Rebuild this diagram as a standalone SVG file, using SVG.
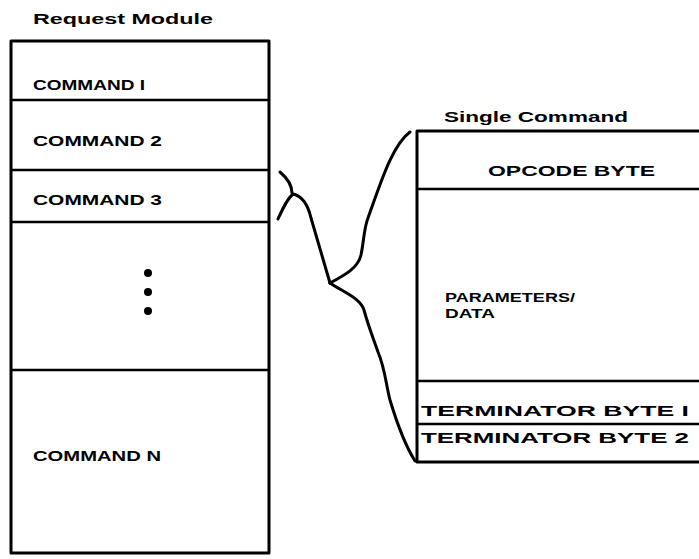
<svg xmlns="http://www.w3.org/2000/svg" width="699" height="559" viewBox="0 0 699 559">
<style>
.box{fill:none;stroke:#000;stroke-width:3;stroke-linejoin:round}
.div{stroke:#000;stroke-width:2.5}
.lbl{font-family:"Liberation Sans",Arial,sans-serif;font-weight:bold;font-size:15px;fill:#000}
.sm{font-size:13.5px}
.ttl{font-family:"Liberation Sans",Arial,sans-serif;font-weight:bold;font-size:14px;fill:#000}
.con{fill:none;stroke:#000;stroke-width:3;stroke-linecap:round;stroke-linejoin:round}
</style>
<rect width="699" height="559" fill="#fff"/>
<g id="request-module">
<text class="ttl" x="33" y="24" textLength="180" lengthAdjust="spacingAndGlyphs">Request Module</text>
<rect class="box" x="11" y="41" width="258" height="512"/>
<line class="div" x1="11" y1="100" x2="269" y2="100"/>
<line class="div" x1="11" y1="170" x2="269" y2="170"/>
<line class="div" x1="11" y1="222" x2="269" y2="222"/>
<line class="div" x1="11" y1="370" x2="269" y2="370"/>
</g>
<g id="command-1"><text class="lbl" x="33" y="90" textLength="112" lengthAdjust="spacingAndGlyphs">COMMAND  I</text></g>
<g id="command-2"><text class="lbl" x="33" y="146" textLength="129" lengthAdjust="spacingAndGlyphs">COMMAND  2</text></g>
<g id="command-3"><text class="lbl" x="33" y="205" textLength="129" lengthAdjust="spacingAndGlyphs">COMMAND  3</text></g>
<g id="ellipsis">
<circle cx="148" cy="273" r="4"/>
<circle cx="148" cy="292" r="4"/>
<circle cx="148" cy="311" r="4"/>
</g>
<g id="command-n"><text class="lbl" x="33" y="461" textLength="128" lengthAdjust="spacingAndGlyphs">COMMAND  N</text></g>
<g id="single-command">
<text class="ttl" x="444" y="122" textLength="184" lengthAdjust="spacingAndGlyphs">Single Command</text>
<rect class="box" x="417" y="131" width="290" height="331"/>
<line class="div" x1="417" y1="189" x2="699" y2="189"/>
<line class="div" x1="417" y1="381" x2="699" y2="381"/>
<line class="div" x1="417" y1="424" x2="699" y2="424"/>
</g>
<g id="opcode-byte"><text class="lbl" x="488" y="176" textLength="167" lengthAdjust="spacingAndGlyphs">OPCODE  BYTE</text></g>
<g id="parameters-data">
<text class="lbl sm" x="445" y="302" textLength="130" lengthAdjust="spacingAndGlyphs">PARAMETERS/</text>
<text class="lbl sm" x="445" y="318" textLength="50" lengthAdjust="spacingAndGlyphs">DATA</text>
</g>
<g id="terminator-1"><text class="lbl" x="421" y="416" textLength="268" lengthAdjust="spacingAndGlyphs">TERMINATOR  BYTE  I</text></g>
<g id="terminator-2"><text class="lbl" x="421" y="443" textLength="268" lengthAdjust="spacingAndGlyphs">TERMINATOR  BYTE  2</text></g>
<g id="connectors">
<path class="con" d="M280,172 C287,178 292,185 292,193"/>
<path class="con" d="M278,219 C283,208 287,199 293,194 C302,196 308,205 311,218 L330,283"/>
<path class="con" d="M330,283 C345,275 358,268 361,255 C364,240 364,228 368,218 C380,185 392,145 410,132"/>
<path class="con" d="M330,283 C345,293 360,298 364,310 C368,325 372,335 378,352 C385,368 386,385 390,400 C396,420 405,445 415,461"/>
</g>
</svg>
